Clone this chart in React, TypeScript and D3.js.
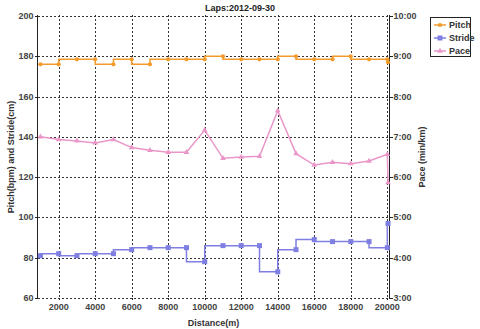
import * as d3 from 'd3';

// lap distances (m) – last one is the short final lap
const distances = [1000, 2000, 3000, 4000, 5000, 6000, 7000, 8000, 9000, 10000,
  11000, 12000, 13000, 14000, 15000, 16000, 17000, 18000, 19000, 20000, 20040];
// pitch in bpm
const pitch = [176, 176, 178.5, 178.5, 176, 178.5, 176, 178.5, 178.5, 178.5,
  180, 178.5, 178.5, 178.5, 180, 178.5, 178.5, 180, 178.5, 178.5, 177];
// stride in cm
const stride = [81, 82, 81, 82, 82, 84, 85, 85, 85, 78,
  86, 86, 86, 73, 84, 89, 88, 88, 88, 85, 97];
// pace in seconds per km
const pace = [420, 416, 414, 411, 416, 404, 400, 397, 397, 430,
  388, 390, 391, 459, 395, 378, 382, 380, 384, 394, 352];

const xTicks = [2000, 4000, 6000, 8000, 10000, 12000, 14000, 16000, 18000, 20000];
const leftTicks = [60, 80, 100, 120, 140, 160, 180, 200];
const paceTicks = [180, 240, 300, 360, 420, 480, 540, 600];

const colors = { pitch: '#f29b2c', stride: '#7f7fe3', pace: '#ea96c8' };

const W = 480;
const H = 329;
const left = 37.5;
const right = 389.5;
const top = 16;
const bottom = 298;

const fmtPace = (s: number) => `${Math.floor(s / 60)}:${String(s % 60).padStart(2, '0')}`;

const App = () => {
  const x = d3.scaleLinear().domain([840, 20120]).range([left, right]);
  const y = d3.scaleLinear().domain([60, 200]).range([bottom, top]);
  const yPace = d3.scaleLinear().domain([180, 600]).range([bottom, top]);

  const stepLine = d3.line<number>()
    .x((_, i) => x(distances[i]))
    .curve(d3.curveStepBefore);

  const pitchPath = stepLine.y(d => y(d))(pitch) || '';
  const stridePath = stepLine.y(d => y(d))(stride) || '';
  const pacePath = d3.line<number>()
    .x((_, i) => x(distances[i]))
    .y(d => yPace(d))(pace) || '';

  const circle = d3.symbol(d3.symbolCircle, 14)() || '';
  const square = d3.symbol(d3.symbolSquare, 25)() || '';
  const triangle = d3.symbol(d3.symbolTriangle, 14)() || '';

  const font = "'Liberation Sans', Arial, sans-serif";
  const legend = [
    { name: 'Pitch', color: colors.pitch, sym: circle },
    { name: 'Stride', color: colors.stride, sym: square },
    { name: 'Pace', color: colors.pace, sym: triangle },
  ];

  return (
    <svg width={W} height={H} style={{ position: 'absolute', left: 0, top: 0, background: '#fff' }}
      fontFamily={font} fontWeight="bold">
      <text x={W / 2} y={11} textAnchor="middle" fontSize={9} fill="#222">Laps:2012-09-30</text>

      {/* grid */}
      <g stroke="#333" strokeWidth={1} strokeDasharray="2,2" shapeRendering="crispEdges">
        {xTicks.map(t => (
          <line key={'gx' + t} x1={Math.round(x(t)) + 0.5} x2={Math.round(x(t)) + 0.5} y1={top - 1} y2={bottom} />
        ))}
        {leftTicks.map(t => (
          <line key={'gy' + t} x1={left} x2={right} y1={Math.round(y(t)) + 0.5} y2={Math.round(y(t)) + 0.5} />
        ))}
      </g>

      {/* axes */}
      <g stroke="#222" strokeWidth={1} shapeRendering="crispEdges">
        <line x1={left} x2={left} y1={top - 1} y2={bottom + 1} />
        <line x1={right} x2={right} y1={top - 1} y2={bottom + 1} />
        {leftTicks.map(t => (
          <line key={'lt' + t} x1={left - 3} x2={left} y1={Math.round(y(t)) + 0.5} y2={Math.round(y(t)) + 0.5} />
        ))}
        {paceTicks.map(t => (
          <line key={'rt' + t} x1={right} x2={right + 3} y1={Math.round(yPace(t)) + 0.5} y2={Math.round(yPace(t)) + 0.5} />
        ))}
        {xTicks.map(t => (
          <line key={'xt' + t} x1={Math.round(x(t)) + 0.5} x2={Math.round(x(t)) + 0.5} y1={bottom} y2={bottom + 2} />
        ))}
      </g>

      <g fontSize={9} fill="#444">
        {leftTicks.map(t => (
          <text key={'ll' + t} x={left - 4} y={y(t) + 3} textAnchor="end">{t}</text>
        ))}
        {paceTicks.map(t => (
          <text key={'rl' + t} x={right + 4} y={yPace(t) + 3}>{fmtPace(t)}</text>
        ))}
        {xTicks.map(t => (
          <text key={'xl' + t} x={x(t)} y={bottom + 12} textAnchor="middle">{t}</text>
        ))}
      </g>

      <text x={(left + right) / 2} y={326} textAnchor="middle" fontSize={9} fill="#333">Distance(m)</text>
      <text transform={`translate(14,${(top + bottom) / 2}) rotate(-90)`} textAnchor="middle" fontSize={9} fill="#333">
        Pitch(bpm) and Stride(cm)
      </text>
      <text transform={`translate(425,${(top + bottom) / 2}) rotate(-90)`} textAnchor="middle" fontSize={9} fill="#333">
        Pace (min/km)
      </text>

      {/* series */}
      <path d={pitchPath} fill="none" stroke={colors.pitch} strokeWidth={1.5} />
      <path d={stridePath} fill="none" stroke={colors.stride} strokeWidth={1.5} />
      <path d={pacePath} fill="none" stroke={colors.pace} strokeWidth={1.5} />
      {pitch.map((v, i) => (
        <path key={'pm' + i} d={circle} transform={`translate(${x(distances[i])},${y(v)})`} fill={colors.pitch} />
      ))}
      {stride.map((v, i) => (
        <path key={'sm' + i} d={square} transform={`translate(${x(distances[i])},${y(v)})`} fill={colors.stride} />
      ))}
      {pace.map((v, i) => (
        <path key={'am' + i} d={triangle} transform={`translate(${x(distances[i])},${yPace(v)})`} fill={colors.pace} />
      ))}

      {/* legend */}
      <rect x={430.5} y={17.5} width={40} height={39} fill="#fff" stroke="#222" strokeWidth={1} />
      {legend.map((d, i) => (
        <g key={d.name} transform={`translate(434,${25 + i * 13})`}>
          <line x1={0} x2={12} y1={0} y2={0} stroke={d.color} strokeWidth={1.5} />
          <path d={d.sym} transform="translate(6,0)" fill={d.color} />
          <text x={15} y={3} fontSize={9} fill="#333">{d.name}</text>
        </g>
      ))}
    </svg>
  );
};

export default App;
